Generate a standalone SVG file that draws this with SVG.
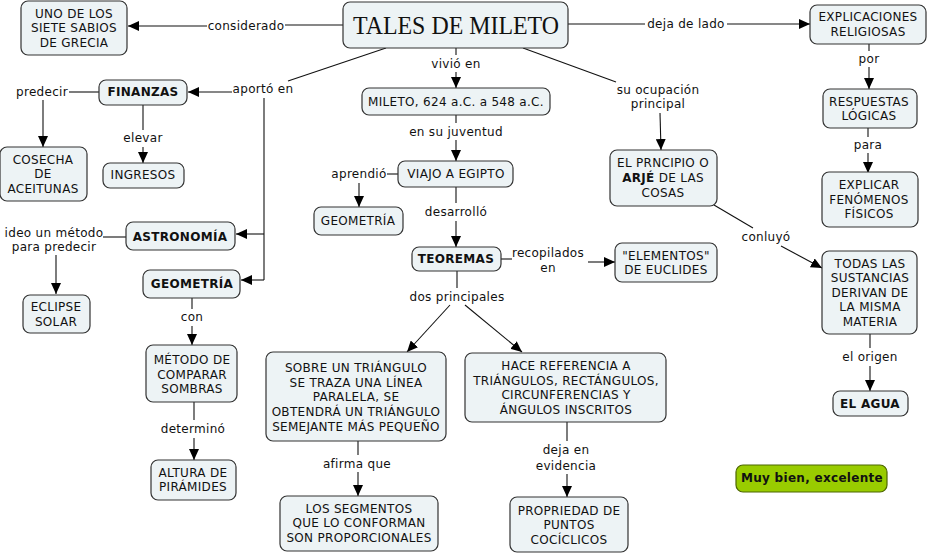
<svg xmlns="http://www.w3.org/2000/svg" width="928" height="554" viewBox="0 0 928 554">
<style>
.n{fill:#edf3f5;stroke:#333;stroke-width:1.2}
.g{fill:#99cc00;stroke:#4d6600;stroke-width:1.2}
text{font-family:"DejaVu Sans","Verdana",sans-serif;font-size:12px;fill:#111;text-anchor:middle;letter-spacing:0.3px}
.b{font-weight:bold}
.t{font-family:"Liberation Serif","Times New Roman",serif;font-size:26px;letter-spacing:0}
.c{fill:none;stroke:#111;stroke-width:1.1}
.a{marker-end:url(#ar)}
</style>
<defs>
<marker id="ar" markerUnits="userSpaceOnUse" viewBox="0 0 11 10" refX="11" refY="5" markerWidth="11" markerHeight="10" orient="auto">
<path d="M0,0 L11,5 L0,10 z" fill="#000"/>
</marker>
</defs>
<rect width="928" height="554" fill="#fff"/>
<g id="connectors">
<path class="c" d="M343,25 H285"/>
<path class="c a" d="M207,26 H128"/>
<text x="246" y="30">considerado</text>
<path class="c" d="M568,24 H645"/>
<path class="c a" d="M727,24 H810"/>
<text x="686" y="28">deja de lado</text>
<path class="c" d="M386,48 L288,81"/>
<path class="c a" d="M232,92 H188"/>
<path class="c" d="M264,98 V280"/>
<path class="c a" d="M264,234 H236"/>
<path class="c a" d="M264,280 H241"/>
<text x="263" y="93">aportó en</text>
<path class="c" d="M456,48 V55"/>
<path class="c a" d="M456,72 V88"/>
<text x="456" y="68">vivió en</text>
<path class="c" d="M456,115 V123"/>
<path class="c a" d="M456,140 V161"/>
<text x="456" y="136">en su juventud</text>
<path class="c" d="M398,174 H387"/>
<path class="c a" d="M359,183 V207"/>
<text x="359" y="178">aprendió</text>
<path class="c" d="M456,187 V203"/>
<path class="c a" d="M456,221 V247"/>
<text x="456" y="216">desarrolló</text>
<path class="c" d="M501,259 H512"/>
<path class="c a" d="M588,262 H615"/>
<text x="548" y="257">recopilados</text>
<text x="548" y="272">en</text>
<path class="c" d="M457,271 V288"/>
<path class="c a" d="M450,305 L407,352"/>
<path class="c a" d="M465,305 L522,352"/>
<text x="457" y="301">dos principales</text>
<path class="c" d="M358,441 V455"/>
<path class="c a" d="M358,472 V496"/>
<text x="357" y="468">afirma que</text>
<path class="c" d="M567,422 V441"/>
<path class="c a" d="M567,474 V497"/>
<text x="566" y="454">deja en</text>
<text x="566" y="470">evidencia</text>
<path class="c" d="M523,48 L616,82"/>
<path class="c a" d="M660,113 L661,150"/>
<text x="658" y="94">su ocupación</text>
<text x="658" y="108">principal</text>
<path class="c" d="M714,205 L753,228"/>
<path class="c a" d="M781,246 L822,268"/>
<text x="766" y="241">conluyó</text>
<path class="c" d="M869,44 V51"/>
<path class="c a" d="M869,67 V89"/>
<text x="869" y="63">por</text>
<path class="c" d="M868,128 V137"/>
<path class="c a" d="M868,153 V173"/>
<text x="868" y="149">para</text>
<path class="c" d="M870,334 V348"/>
<path class="c a" d="M870,366 V391"/>
<text x="870" y="361">el origen</text>
<path class="c" d="M99,92 H69"/>
<path class="c a" d="M43,100 V147"/>
<text x="42" y="96">predecir</text>
<path class="c" d="M143,105 V130"/>
<path class="c a" d="M143,147 V163"/>
<text x="143" y="142">elevar</text>
<path class="c" d="M126,237 H103"/>
<path class="c a" d="M56,255 V294"/>
<text x="54" y="237">ideo un método</text>
<text x="54" y="251">para predecir</text>
<path class="c" d="M192,298 V309"/>
<path class="c a" d="M192,326 V345"/>
<text x="192" y="321">con</text>
<path class="c" d="M194,402 V420"/>
<path class="c a" d="M194,438 V460"/>
<text x="193" y="433">determinó</text>
</g>
<g id="tales"><rect class="n" x="343" y="2" width="225" height="46" rx="7"/><text class="t" x="456" y="34" textLength="206" lengthAdjust="spacingAndGlyphs">TALES DE MILETO</text></g>
<g id="sabios"><rect class="n" x="21" y="1" width="106" height="54" rx="7"/><text x="74" y="18">UNO DE LOS</text><text x="74" y="32">SIETE SABIOS</text><text x="74" y="47">DE GRECIA</text></g>
<g id="religiosas"><rect class="n" x="810" y="5" width="116" height="39" rx="7"/><text x="868" y="21">EXPLICACIONES</text><text x="868" y="36">RELIGIOSAS</text></g>
<g id="finanzas"><rect class="n" x="99" y="80" width="88" height="25" rx="7"/><text class="b" x="143" y="96">FINANZAS</text></g>
<g id="cosecha"><rect class="n" x="0" y="147" width="87" height="54" rx="7"/><text x="43" y="164">COSECHA</text><text x="43" y="178">DE</text><text x="43" y="193">ACEITUNAS</text></g>
<g id="ingresos"><rect class="n" x="103" y="163" width="81" height="25" rx="7"/><text x="143" y="179">INGRESOS</text></g>
<g id="mileto"><rect class="n" x="362" y="88" width="188" height="27" rx="7"/><text x="456" y="106">MILETO, 624 a.C. a 548 a.C.</text></g>
<g id="viajo"><rect class="n" x="398" y="161" width="115" height="26" rx="7"/><text x="456" y="178">VIAJO A EGIPTO</text></g>
<g id="geometria1"><rect class="n" x="314" y="207" width="89" height="28" rx="7"/><text x="358" y="225">GEOMETRÍA</text></g>
<g id="teoremas"><rect class="n" x="412" y="247" width="89" height="24" rx="7"/><text class="b" x="456" y="263">TEOREMAS</text></g>
<g id="elementos"><rect class="n" x="615" y="243" width="102" height="39" rx="7"/><text x="666" y="260">"ELEMENTOS"</text><text x="666" y="274">DE EUCLIDES</text></g>
<g id="principio"><rect class="n" x="610" y="150" width="107" height="56" rx="7"/><text x="663" y="167">EL PRNCIPIO O</text><text x="663" y="182"><tspan class="b">ARJÉ</tspan> DE LAS</text><text x="663" y="197">COSAS</text></g>
<g id="respuestas"><rect class="n" x="823" y="89" width="94" height="39" rx="7"/><text x="869" y="106">RESPUESTAS</text><text x="869" y="120">LÓGICAS</text></g>
<g id="explicar"><rect class="n" x="822" y="172" width="96" height="55" rx="7"/><text x="869" y="189">EXPLICAR</text><text x="869" y="204">FENÓMENOS</text><text x="869" y="218">FÍSICOS</text></g>
<g id="sustancias"><rect class="n" x="822" y="251" width="95" height="83" rx="7"/><text x="870" y="268">TODAS LAS</text><text x="870" y="282">SUSTANCIAS</text><text x="870" y="297">DERIVAN DE</text><text x="870" y="311">LA MISMA</text><text x="870" y="326">MATERIA</text></g>
<g id="agua"><rect class="n" x="833" y="391" width="75" height="25" rx="7"/><text class="b" x="870" y="408">EL AGUA</text></g>
<g id="astronomia"><rect class="n" x="126" y="222" width="109" height="28" rx="7"/><text class="b" x="180" y="241">ASTRONOMÍA</text></g>
<g id="geometria2"><rect class="n" x="143" y="270" width="97" height="28" rx="7"/><text class="b" x="192" y="288">GEOMETRÍA</text></g>
<g id="eclipse"><rect class="n" x="23" y="295" width="67" height="38" rx="7"/><text x="56" y="311">ECLIPSE</text><text x="56" y="326">SOLAR</text></g>
<g id="metodo"><rect class="n" x="146" y="345" width="91" height="57" rx="7"/><text x="192" y="364">MÉTODO DE</text><text x="192" y="379">COMPARAR</text><text x="192" y="393">SOMBRAS</text></g>
<g id="altura"><rect class="n" x="151" y="460" width="85" height="40" rx="7"/><text x="193" y="477">ALTURA DE</text><text x="193" y="491">PIRÁMIDES</text></g>
<g id="sobre"><rect class="n" x="266" y="352" width="180" height="89" rx="7"/><text x="356" y="372">SOBRE UN TRIÁNGULO</text><text x="356" y="387">SE TRAZA UNA LÍNEA</text><text x="356" y="401">PARALELA, SE</text><text x="356" y="416">OBTENDRÁ UN TRIÁNGULO</text><text x="356" y="431">SEMEJANTE MÁS PEQUEÑO</text></g>
<g id="hace"><rect class="n" x="465" y="353" width="201" height="69" rx="7"/><text x="566" y="370">HACE REFERENCIA A</text><text x="566" y="385">TRIÁNGULOS, RECTÁNGULOS,</text><text x="566" y="399">CIRCUNFERENCIAS Y</text><text x="566" y="414">ÁNGULOS INSCRITOS</text></g>
<g id="segmentos"><rect class="n" x="280" y="496" width="158" height="55" rx="7"/><text x="359" y="513">LOS SEGMENTOS</text><text x="359" y="527">QUE LO CONFORMAN</text><text x="359" y="542">SON PROPORCIONALES</text></g>
<g id="propriedad"><rect class="n" x="510" y="497" width="118" height="55" rx="7"/><text x="569" y="515">PROPRIEDAD DE</text><text x="569" y="529">PUNTOS</text><text x="569" y="544">COCÍCLICOS</text></g>
<g id="muybien"><rect class="g" x="736" y="465" width="151" height="27" rx="7"/><text class="b" x="812" y="482">Muy bien, excelente</text></g>
</svg>
